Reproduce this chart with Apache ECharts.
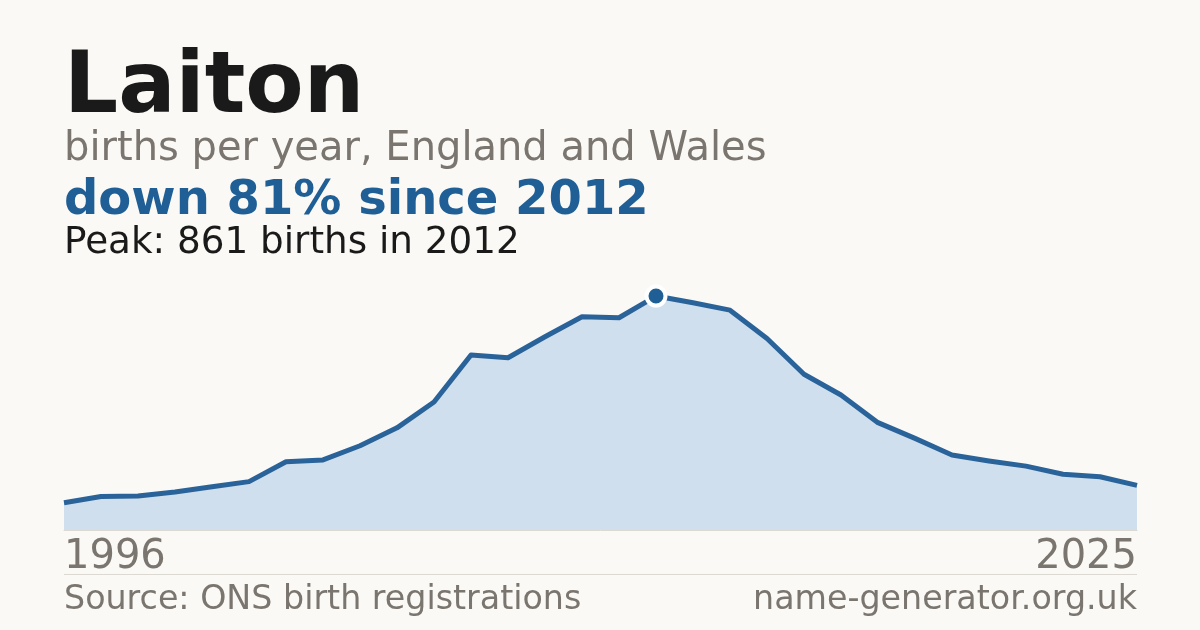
<!DOCTYPE html>
<html>
<head>
<meta charset="utf-8">
<script src="https://cdn.jsdelivr.net/npm/echarts@6/dist/echarts.min.js"></script>
<style>
html,body{margin:0;padding:0;background:#faf9f5;}
#chart{width:1200px;height:630px;}
</style>
</head>
<body>
<div id="chart"></div>
<script>
const years = ['1996','1997','1998','1999','2000','2001','2002','2003','2004','2005','2006','2007','2008','2009','2010','2011','2012','2013','2014','2015','2016','2017','2018','2019','2020','2021','2022','2023','2024','2025'];
const births = [100,123,125,140,159,178,251,258,310,376,471,644,634,711,785,781,861,836,809,705,573,497,395,337,276,254,235,205,196,164];
const peakYear = '2012';
const peakValue = 861;
const titleText = 'Laiton';
const subtitleText = 'births per year, England and Wales';
const changeText = 'down 81% since 2012';
const peakText = 'Peak: 861 births in 2012';
const sourceText = 'Source: ONS birth registrations';
const siteText = 'name-generator.org.uk';

const FONT = '"DejaVu Sans", sans-serif';
const chart = echarts.init(document.getElementById('chart'), null, {renderer:'canvas'});
const lastIdx = years.length - 1;
chart.setOption({
  backgroundColor: '#faf9f5',
  animation: false,
  grid: {left: 64, right: 63, top: 280, bottom: 100},
  xAxis: {
    type: 'category', data: years, boundaryGap: false,
    axisLine: {show: true, lineStyle: {color: '#dcd9d2', width: 1}},
    axisTick: {show: false},
    splitLine: {show: false},
    axisLabel: {
      interval: (i) => i === 0 || i === lastIdx,
      color: '#7a756e', fontFamily: FONT, fontSize: 40, margin: 8,
      alignMinLabel: 'left', alignMaxLabel: 'right'
    }
  },
  yAxis: {type: 'value', min: 0, max: 920, show: false, splitLine: {show: false}},
  graphic: [
    {type: 'text', x: 64, y: 47, style: {text: titleText, font: 'bold 85px ' + FONT, fill: '#1a1a1a'}},
    {type: 'text', x: 64, y: 130, style: {text: subtitleText, font: '40px ' + FONT, fill: '#7a756e'}},
    {type: 'text', x: 64, y: 178, style: {text: changeText, font: 'bold 48px ' + FONT, fill: '#1f5f96'}},
    {type: 'text', x: 64, y: 225, style: {text: peakText, font: '37.3px ' + FONT, fill: '#1a1a1a'}},
    {type: 'rect', shape: {x: 64, y: 574, width: 1073, height: 1}, style: {fill: '#dcd9d2'}},
    {type: 'text', x: 64, y: 584, style: {text: sourceText, font: '33.3px ' + FONT, fill: '#7a756e'}},
    {type: 'text', x: 1137, y: 584, style: {text: siteText, font: '33.3px ' + FONT, fill: '#7a756e', align: 'right'}}
  ],
  series: [
    {
      type: 'line', data: births, showSymbol: false, symbol: 'none',
      lineStyle: {color: '#2a6399', width: 5, join: 'round'},
      areaStyle: {color: '#cfdfee', opacity: 1},
      z: 2
    },
    {
      type: 'scatter', data: [[peakYear, peakValue]],
      symbol: 'circle', symbolSize: 19,
      itemStyle: {color: '#1f5f96', borderColor: '#ffffff', borderWidth: 4, opacity: 1},
      z: 5
    }
  ]
});
</script>
</body>
</html>
